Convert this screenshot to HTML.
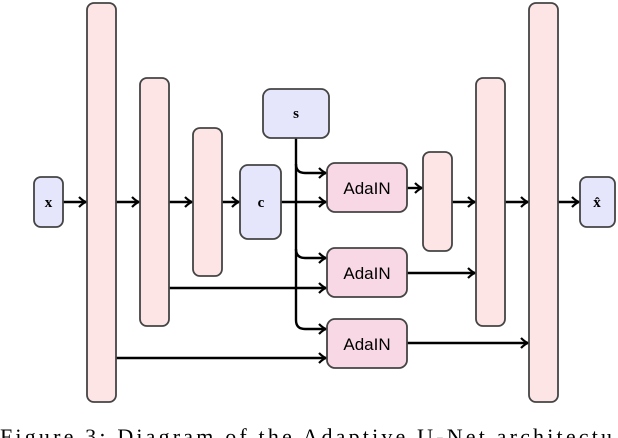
<!DOCTYPE html>
<html><head><meta charset="utf-8"><style>html,body{margin:0;padding:0;background:#fff;overflow:hidden}svg{display:block}</style></head>
<body>
<svg width="618" height="438" viewBox="0 0 618 438" xmlns="http://www.w3.org/2000/svg">
<defs>
<marker id="a" markerWidth="10" markerHeight="12" refX="8" refY="6" orient="auto" markerUnits="userSpaceOnUse">
<path d="M1,1 Q5,5 8,6 Q5,7 1,11" fill="none" stroke="#000" stroke-width="2.2"/>
</marker>
</defs>
<g stroke="#000" stroke-width="2.4" fill="none">
<line x1="63" y1="202" x2="86" y2="202" marker-end="url(#a)"/>
<line x1="116" y1="202" x2="139" y2="202" marker-end="url(#a)"/>
<line x1="169" y1="202" x2="192" y2="202" marker-end="url(#a)"/>
<line x1="222" y1="202" x2="239" y2="202" marker-end="url(#a)"/>
<line x1="281" y1="202" x2="326" y2="202" marker-end="url(#a)"/>
<line x1="169" y1="288" x2="326" y2="288" marker-end="url(#a)"/>
<line x1="116" y1="358" x2="326" y2="358" marker-end="url(#a)"/>
<path d="M296,138 V320 Q296,329 305,329 H326" marker-end="url(#a)"/>
<path d="M296,164 Q296,173 305,173 H326" marker-end="url(#a)"/>
<path d="M296,249 Q296,258 305,258 H326" marker-end="url(#a)"/>
<line x1="407" y1="188" x2="422" y2="188" marker-end="url(#a)"/>
<line x1="452" y1="202" x2="475" y2="202" marker-end="url(#a)"/>
<line x1="505" y1="202" x2="528" y2="202" marker-end="url(#a)"/>
<line x1="558" y1="202" x2="579" y2="202" marker-end="url(#a)"/>
<line x1="407" y1="273" x2="475" y2="273" marker-end="url(#a)"/>
<line x1="407" y1="343" x2="528" y2="343" marker-end="url(#a)"/>
</g>
<g stroke="#444" stroke-width="1.8">
<rect x="87" y="3" width="29" height="399" rx="7" fill="#fde5e6"/>
<rect x="140" y="78" width="29" height="248" rx="7" fill="#fde5e6"/>
<rect x="193" y="128" width="29" height="148" rx="7" fill="#fde5e6"/>
<rect x="423" y="152" width="29" height="99" rx="7" fill="#fde5e6"/>
<rect x="476" y="78" width="29" height="248" rx="7" fill="#fde5e6"/>
<rect x="529" y="3" width="29" height="399" rx="7" fill="#fde5e6"/>
<rect x="34" y="177" width="29" height="50" rx="7" fill="#e5e5fb"/>
<rect x="240" y="165" width="41" height="74" rx="8" fill="#e5e5fb"/>
<rect x="263" y="89" width="66" height="49" rx="8" fill="#e5e5fb"/>
<rect x="580" y="177" width="35" height="50" rx="7" fill="#e5e5fb"/>
<rect x="327" y="163" width="80" height="49" rx="8" fill="#f8d8e4"/>
<rect x="327" y="248" width="80" height="49" rx="8" fill="#f8d8e4"/>
<rect x="327" y="319" width="80" height="49" rx="8" fill="#f8d8e4"/>
</g>
<g font-family="Liberation Serif, serif" font-weight="bold" font-size="15" text-anchor="middle">
<text x="48.5" y="207">x</text>
<text x="261" y="207">c</text>
<text x="296" y="118">s</text>
<text x="597" y="207">x̂</text>
</g>
<g font-family="Liberation Sans, sans-serif" font-size="17" text-anchor="middle">
<text x="367" y="194">AdaIN</text>
<text x="367" y="279">AdaIN</text>
<text x="367" y="350">AdaIN</text>
</g>
<text x="0" y="444" font-family="Liberation Serif, serif" font-size="22" textLength="612" lengthAdjust="spacing">Figure 3: Diagram of the Adaptive U-Net architectu</text>
</svg>
</body></html>
